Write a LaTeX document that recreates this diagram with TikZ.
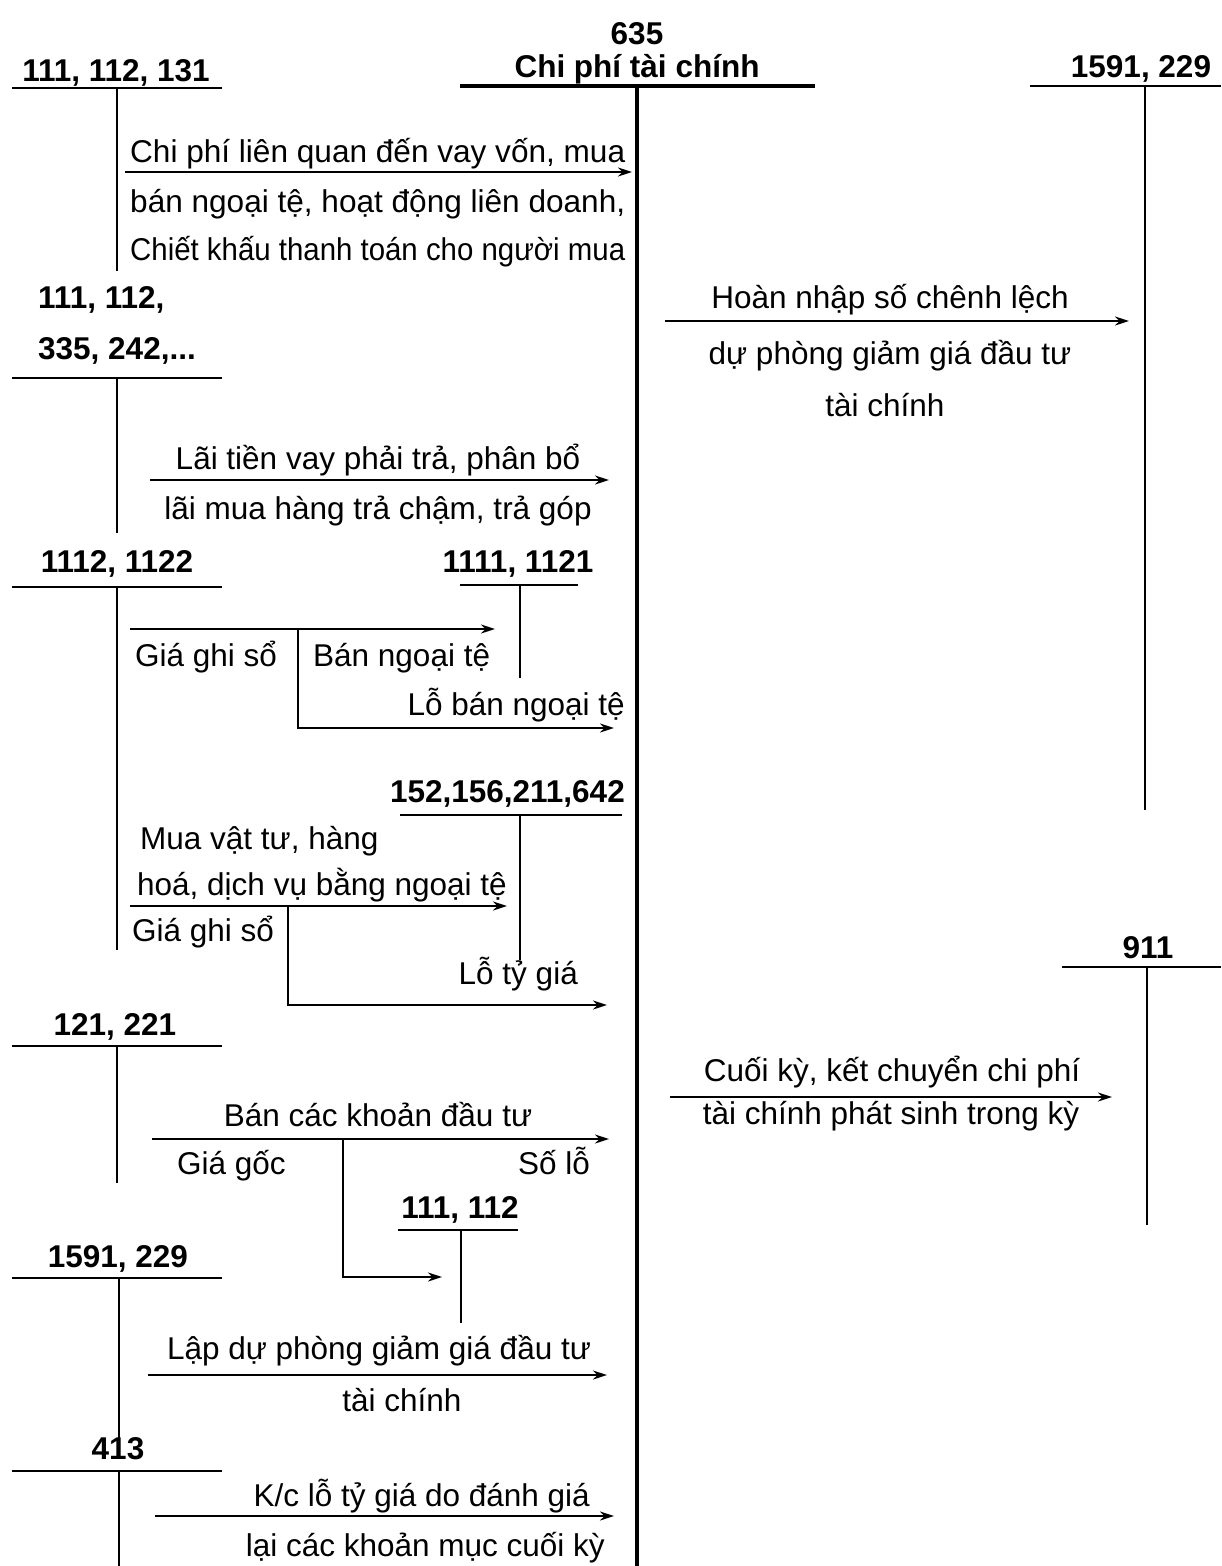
\documentclass[tikz,border=0pt]{standalone}
\usepackage{fontspec}
\setmainfont{Liberation Sans}
\usetikzlibrary{arrows.meta}
\begin{document}
\begin{tikzpicture}[x=1pt,y=-1pt,
  lbl/.style={font=\fontsize{31.5}{36}\selectfont\bfseries, inner sep=0pt},
  txt/.style={font=\fontsize{31.5}{36}\selectfont, inner sep=0pt},
  tline/.style={line width=2pt},
  mainline/.style={line width=3.5pt},
  arr/.style={line width=2pt, -{Stealth[length=14pt,width=9pt]}}]
\useasboundingbox[fill=white] (0,0) rectangle (1221,1566);

% ---- main account 635
\node[lbl, anchor=base] (n635) at (637,44) {635};
\node[lbl, anchor=base] (n635t) at (637,77) {Chi phí tài chính};
\coordinate (m1) at (460,86); \coordinate (m2) at (815,86);
\coordinate (mt) at (637,86); \coordinate (mb) at (637,1566);
\draw[mainline] (m1) -- (m2);
\draw[mainline] (mt) -- (mb);

% ---- 111,112,131
\node[lbl, anchor=base] (a1) at (116,81) {111, 112, 131};
\coordinate (a1l) at (12,88); \coordinate (a1r) at (222,88);
\coordinate (a1t) at (117,88); \coordinate (a1b) at (117,271);
\draw[tline] (a1l) -- (a1r); \draw[tline] (a1t) -- (a1b);
\coordinate (e1s) at (125,172); \coordinate (e1e) at (632,172);
\draw[arr] (e1s) -- (e1e);
\node[txt, anchor=base west] (t1a) at (130,162) {\resizebox{495pt}{\height}{Chi phí liên quan đến vay vốn, mua}};
\node[txt, anchor=base west] (t1b) at (130,212) {\resizebox{495pt}{\height}{bán ngoại tệ, hoạt động liên doanh,}};
\node[txt, anchor=base west] (t1c) at (130,260) {\resizebox{495pt}{\height}{Chiết khấu thanh toán cho người mua}};

% ---- 111,112,335,242
\node[lbl, anchor=base west] (a2a) at (38,308) {111, 112,};
\node[lbl, anchor=base west] (a2b) at (38,359) {335, 242,...};
\coordinate (a2l) at (12,378); \coordinate (a2r) at (222,378);
\coordinate (a2t) at (117,378); \coordinate (a2b') at (117,533);
\draw[tline] (a2l) -- (a2r); \draw[tline] (a2t) -- (a2b');
\coordinate (e2s) at (150,480); \coordinate (e2e) at (609,480);
\draw[arr] (e2s) -- (e2e);
\node[txt, anchor=base] (t2a) at (378,469) {Lãi tiền vay phải trả, phân bổ};
\node[txt, anchor=base] (t2b) at (378,519) {lãi mua hàng trả chậm, trả góp};

% ---- 1591,229 (right, top)
\node[lbl, anchor=base] (r1) at (1141,77) {1591, 229};
\coordinate (r1l) at (1030,86); \coordinate (r1r) at (1221,86);
\coordinate (r1t) at (1145,86); \coordinate (r1b) at (1145,810);
\draw[tline] (r1l) -- (r1r); \draw[tline] (r1t) -- (r1b);
\coordinate (e3s) at (665,321); \coordinate (e3e) at (1129,321);
\draw[arr] (e3s) -- (e3e);
\node[txt, anchor=base] (t3a) at (890,308) {Hoàn nhập số chênh lệch};
\node[txt, anchor=base] (t3b) at (890,364) {dự phòng giảm giá đầu tư};
\node[txt, anchor=base] (t3c) at (885,416) {tài chính};

% ---- 1112,1122
\node[lbl, anchor=base] (a3) at (117,572) {1112, 1122};
\coordinate (a3l) at (12,587); \coordinate (a3r) at (222,587);
\coordinate (a3t) at (117,587); \coordinate (a3b) at (117,950);
\draw[tline] (a3l) -- (a3r); \draw[tline] (a3t) -- (a3b);
% 1111,1121
\node[lbl, anchor=base] (b1) at (518,572) {1111, 1121};
\coordinate (b1l) at (460,585); \coordinate (b1r) at (578,585);
\coordinate (b1t) at (520,585); \coordinate (b1b) at (520,678);
\draw[tline] (b1l) -- (b1r); \draw[tline] (b1t) -- (b1b);
\coordinate (e4s) at (130,629); \coordinate (e4e) at (495,629);
\coordinate (e4k) at (298,629); \coordinate (e4d) at (298,728); \coordinate (e4f) at (614,728);
\draw[arr] (e4s) -- (e4e);
\draw[arr] (e4k) -- (e4d) -- (e4f);
\node[txt, anchor=base west] (t4a) at (135,666) {Giá ghi sổ};
\node[txt, anchor=base west] (t4b) at (313,666) {Bán ngoại tệ};
\node[txt, anchor=base east] (t4c) at (625,715) {Lỗ bán ngoại tệ};

% 152,156,211,642
\node[lbl, anchor=base east] (b2) at (625,802) {152,156,211,642};
\coordinate (b2l) at (400,815); \coordinate (b2r) at (622,815);
\coordinate (b2t) at (520,815); \coordinate (b2b) at (520,960);
\draw[tline] (b2l) -- (b2r); \draw[tline] (b2t) -- (b2b);
\coordinate (e5s) at (130,906); \coordinate (e5e) at (507,906);
\coordinate (e5k) at (288,906); \coordinate (e5d) at (288,1005); \coordinate (e5f) at (607,1005);
\draw[arr] (e5s) -- (e5e);
\draw[arr] (e5k) -- (e5d) -- (e5f);
\node[txt, anchor=base west] (t5a) at (140,849) {Mua vật tư, hàng};
\node[txt, anchor=base west] (t5b) at (137,895) {hoá, dịch vụ bằng ngoại tệ};
\node[txt, anchor=base west] (t5c) at (132,941) {Giá ghi sổ};
\node[txt, anchor=base east] (t5d) at (578,984) {Lỗ tỷ giá};

% ---- 121,221
\node[lbl, anchor=base] (a4) at (115,1035) {121, 221};
\coordinate (a4l) at (12,1046); \coordinate (a4r) at (222,1046);
\coordinate (a4t) at (117,1046); \coordinate (a4b) at (117,1183);
\draw[tline] (a4l) -- (a4r); \draw[tline] (a4t) -- (a4b);
\coordinate (e6s) at (152,1139); \coordinate (e6e) at (609,1139);
\coordinate (e6k) at (343,1139); \coordinate (e6d) at (343,1277); \coordinate (e6f) at (442,1277);
\draw[arr] (e6s) -- (e6e);
\draw[arr] (e6k) -- (e6d) -- (e6f);
\node[txt, anchor=base] (t6a) at (378,1126) {Bán các khoản đầu tư};
\node[txt, anchor=base west] (t6b) at (177,1174) {Giá gốc};
\node[txt, anchor=base east] (t6c) at (590,1174) {Số lỗ};
% 111,112
\node[lbl, anchor=base] (b3) at (460,1218) {111, 112};
\coordinate (b3l) at (398,1230); \coordinate (b3r) at (518,1230);
\coordinate (b3t) at (461,1230); \coordinate (b3b) at (461,1323);
\draw[tline] (b3l) -- (b3r); \draw[tline] (b3t) -- (b3b);

% ---- 1591,229 (left)
\node[lbl, anchor=base] (a5) at (118,1267) {1591, 229};
\coordinate (a5l) at (12,1278); \coordinate (a5r) at (222,1278);
\coordinate (a5t) at (119,1278); \coordinate (a5b) at (119,1440);
\draw[tline] (a5l) -- (a5r); \draw[tline] (a5t) -- (a5b);
\coordinate (e7s) at (148,1375); \coordinate (e7e) at (607,1375);
\draw[arr] (e7s) -- (e7e);
\node[txt, anchor=base] (t7a) at (379,1359) {Lập dự phòng giảm giá đầu tư};
\node[txt, anchor=base] (t7b) at (402,1411) {tài chính};

% ---- 413
\node[lbl, anchor=base] (a6) at (118,1459) {413};
\coordinate (a6l) at (12,1471); \coordinate (a6r) at (222,1471);
\coordinate (a6t) at (119,1471); \coordinate (a6b) at (119,1566);
\draw[tline] (a6l) -- (a6r); \draw[tline] (a6t) -- (a6b);
\coordinate (e8s) at (155,1516); \coordinate (e8e) at (614,1516);
\draw[arr] (e8s) -- (e8e);
\node[txt, anchor=base east] (t8a) at (590,1506) {K/c lỗ tỷ giá do đánh giá};
\node[txt, anchor=base east] (t8b) at (605,1556) {lại các khoản mục cuối kỳ};

% ---- 911
\node[lbl, anchor=base] (r2) at (1148,958) {911};
\coordinate (r2l) at (1062,967); \coordinate (r2r) at (1221,967);
\coordinate (r2t) at (1147,967); \coordinate (r2b) at (1147,1225);
\draw[tline] (r2l) -- (r2r); \draw[tline] (r2t) -- (r2b);
\coordinate (e9s) at (670,1097); \coordinate (e9e) at (1112,1097);
\draw[arr] (e9s) -- (e9e);
\node[txt, anchor=base] (t9a) at (892,1081) {Cuối kỳ, kết chuyển chi phí};
\node[txt, anchor=base] (t9b) at (891,1124) {tài chính phát sinh trong kỳ};
\end{tikzpicture}
\end{document}
